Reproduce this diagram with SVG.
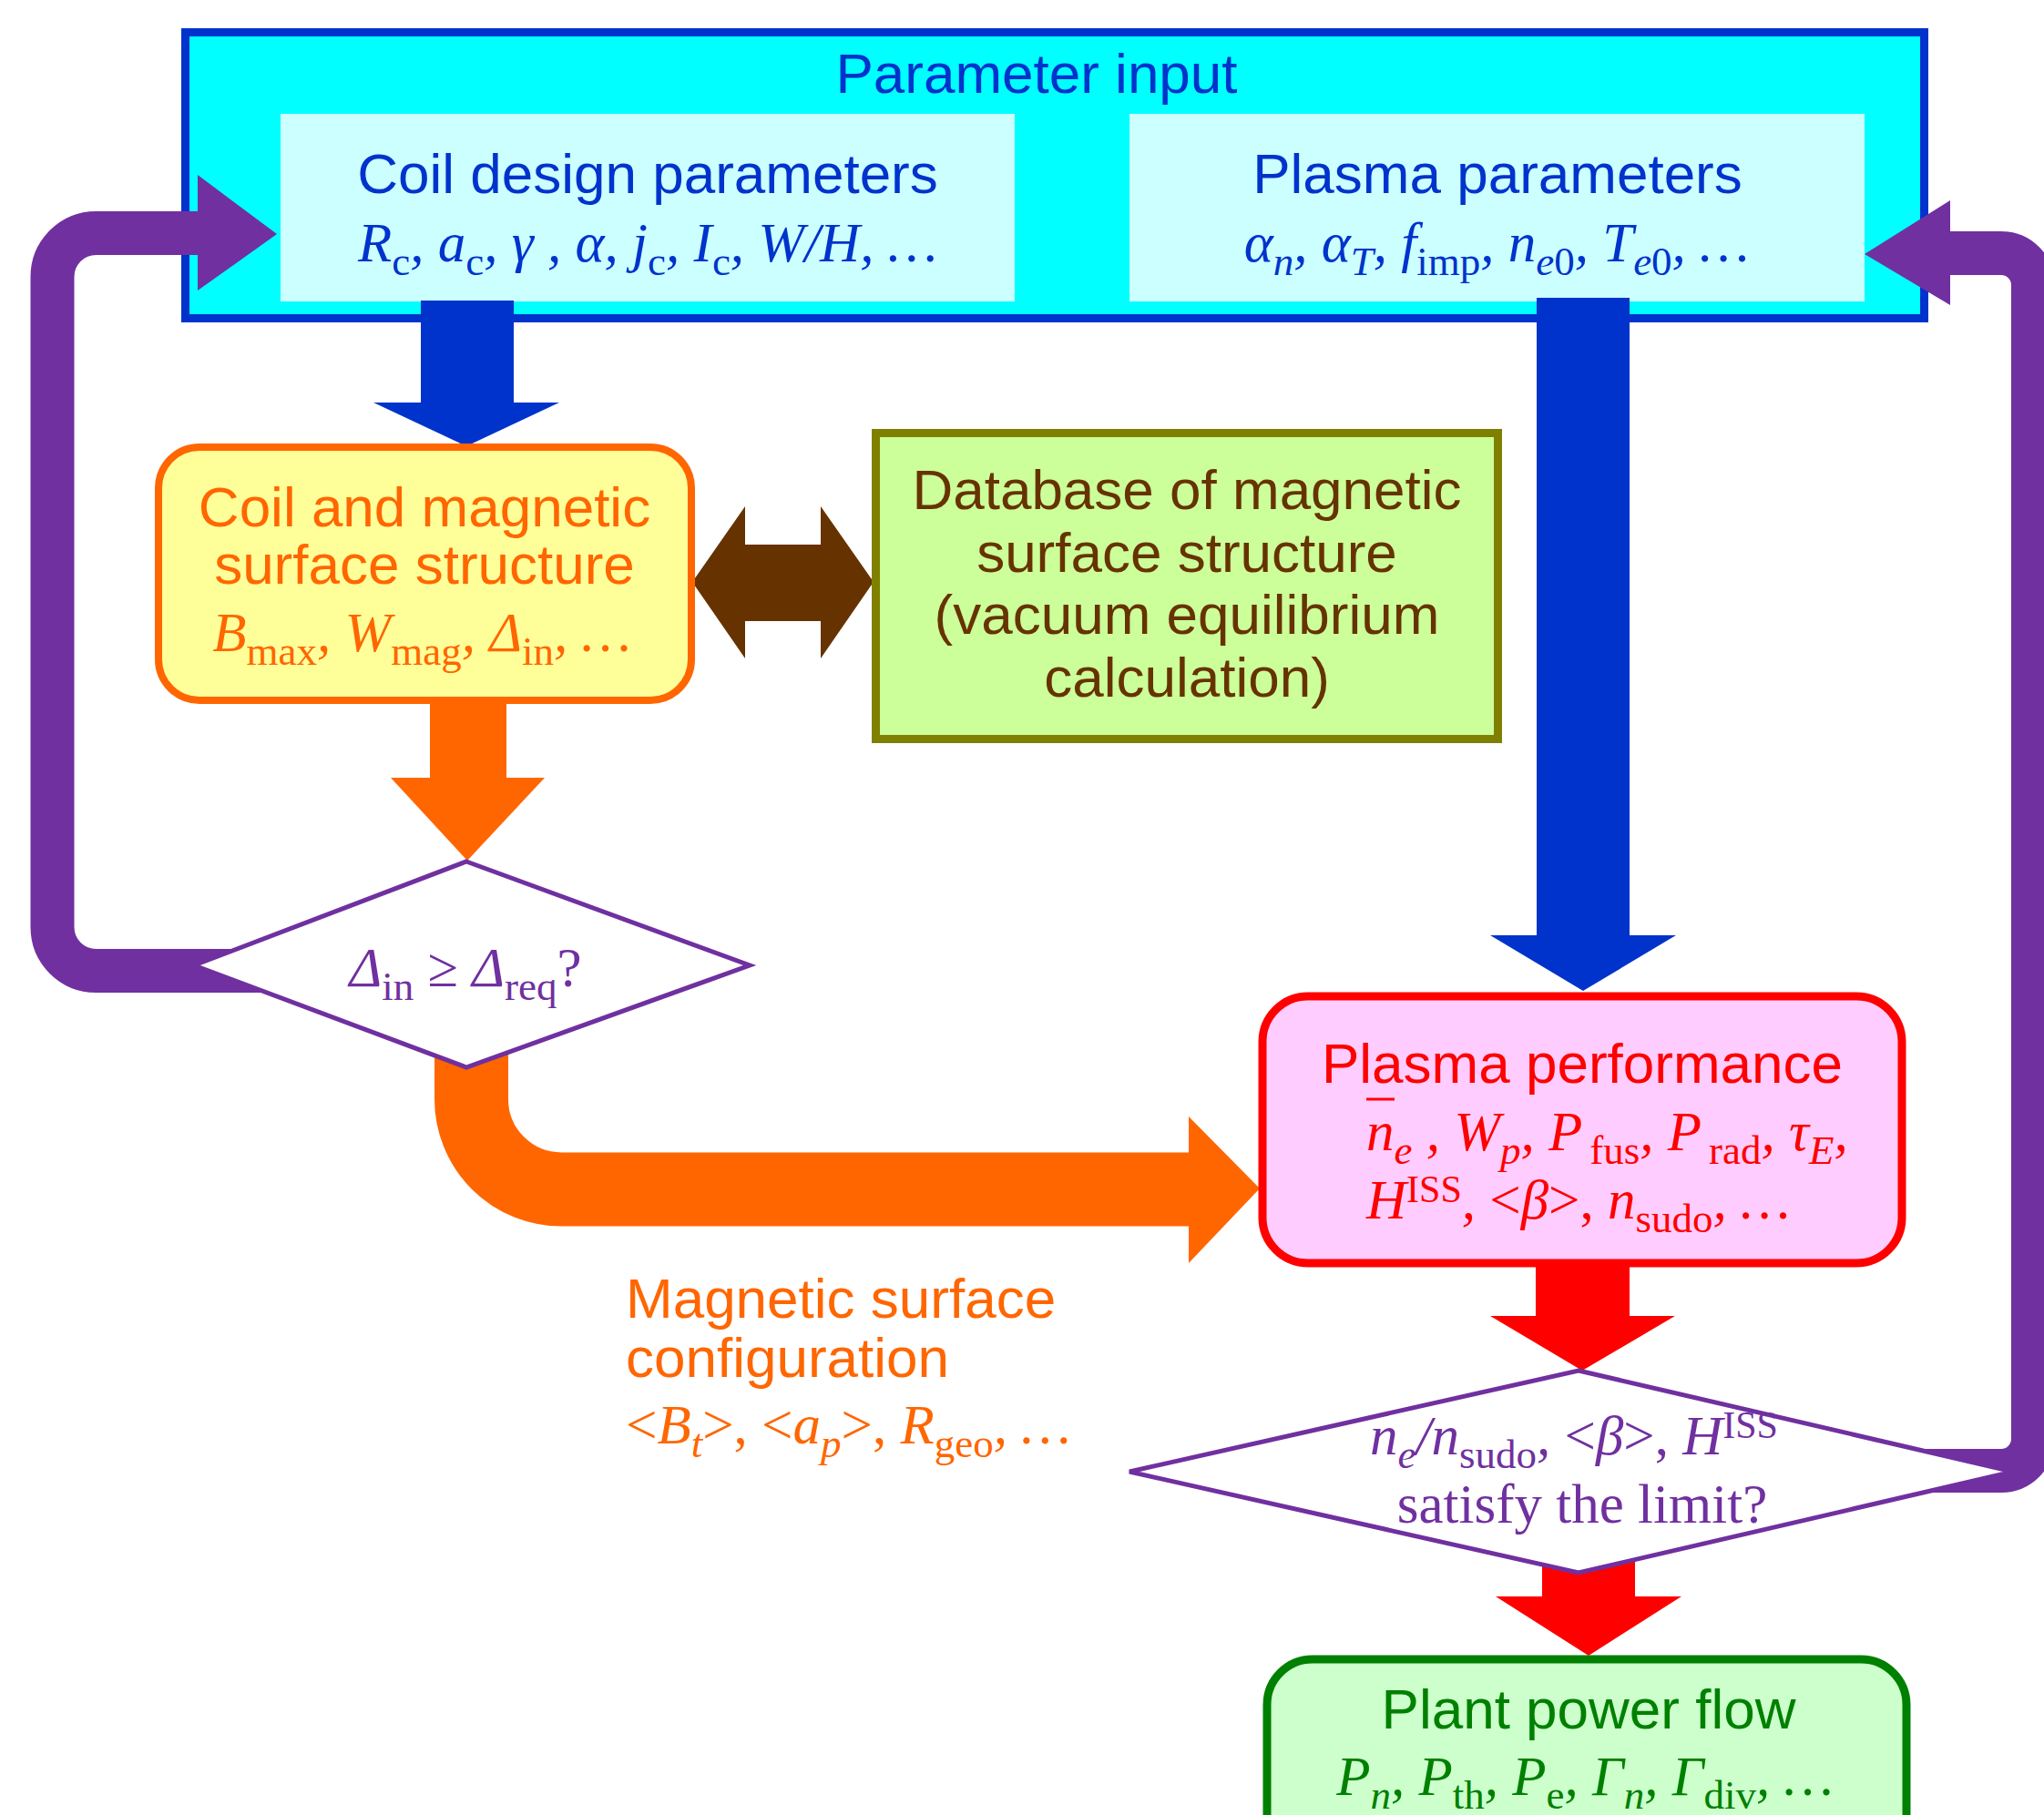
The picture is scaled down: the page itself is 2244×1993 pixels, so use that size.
<svg xmlns="http://www.w3.org/2000/svg" width="2244" height="1993" viewBox="0 0 2244 1993">
<style>
.sans{font-family:"Liberation Sans",Arial,sans-serif;font-size:62px}
.ti{font-family:"Liberation Serif","Times New Roman",serif;font-size:61px;font-style:italic}
.rm{font-family:"Liberation Serif","Times New Roman",serif;font-size:61px;font-style:normal}
.sb{font-size:45px;font-style:normal}
.si{font-size:45px;font-style:italic}
.sp{font-size:42px;font-style:normal}
.blue{fill:#0033CC}
.org{fill:#FF6600}
.brn{fill:#663300}
.red{fill:#FF0000}
.grn{fill:#008000}
.pur{fill:#7030A0}
.band{fill:none;stroke:#7030A0;stroke-width:48}
</style>
<rect width="2244" height="1993" fill="#FFFFFF"/>

<g id="parameter-input">
<rect x="203.5" y="35.5" width="1909" height="314" fill="#00FFFF" stroke="#0033CC" stroke-width="9"/>
<text class="sans blue" x="1138" y="102" text-anchor="middle">Parameter input</text>
</g>
<g id="coil-design-parameters">
<rect x="308" y="125" width="806" height="206" fill="#CCFFFF"/>
<text class="sans blue" x="711" y="212" text-anchor="middle">Coil design parameters</text>
<text class="ti blue" x="711" y="287" text-anchor="middle">R<tspan class="sb" dy="15">c</tspan><tspan dy="-15">, a</tspan><tspan class="sb" dy="15">c</tspan><tspan dy="-15">, γ , α, j</tspan><tspan class="sb" dy="15">c</tspan><tspan dy="-15">, I</tspan><tspan class="sb" dy="15">c</tspan><tspan dy="-15">, W/H, …</tspan></text>
</g>
<g id="plasma-parameters">
<rect x="1240" y="125" width="807" height="206" fill="#CCFFFF"/>
<text class="sans blue" x="1644" y="212" text-anchor="middle">Plasma parameters</text>
<text class="ti blue" x="1643" y="287" text-anchor="middle">α<tspan class="si" dy="15">n</tspan><tspan dy="-15">, α</tspan><tspan class="si" dy="15">T</tspan><tspan dy="-15">, f</tspan><tspan class="sb" dy="15">imp</tspan><tspan dy="-15">, n</tspan><tspan class="si" dy="15">e</tspan><tspan class="sb">0</tspan><tspan dy="-15">, T</tspan><tspan class="si" dy="15">e</tspan><tspan class="sb">0</tspan><tspan dy="-15">, …</tspan></text>
</g>

<g id="connectors">
<!-- blue arrows -->
<polygon points="462,330 564,330 564,442 614,442 512,490 410,442 462,442" fill="#0033CC"/>
<polygon points="1687,327 1789,327 1789,1027 1840,1027 1738,1088 1636,1027 1687,1027" fill="#0033CC"/>
<!-- orange arrows -->
<polygon points="472,770 556,770 556,854 598,854 513,945 429,854 472,854" fill="#FF6600"/>
<path d="M517.5 1120 V1207 A99 99 0 0 0 616.5 1306 H1310" fill="none" stroke="#FF6600" stroke-width="81"/>
<polygon points="1305,1226 1383,1305 1305,1387" fill="#FF6600"/>
<!-- double arrow -->
<polygon points="760,639 818,556 818,598 901,598 901,556 959,639 901,723 901,682 818,682 818,723" fill="#663300"/>
<!-- red arrows -->
<polygon points="1686,1385 1789,1385 1789,1445 1839,1445 1737,1505 1636,1445 1686,1445" fill="#FF0000"/>
<polygon points="1693,1690 1795,1690 1795,1753 1846,1753 1744,1818 1642,1753 1693,1753" fill="#FF0000"/>
<!-- purple feedback loops -->
<path class="band" d="M300 1066 H105.5 A48 48 0 0 1 57.5 1018 V304 A48 48 0 0 1 105.5 256 H222" stroke-width="47"/>
<polygon points="217,192 304,257 217,319" fill="#7030A0"/>
<path class="band" d="M2000 1615 H2197 A35 35 0 0 0 2232 1580 V313 A35 35 0 0 0 2197 278 H2136" stroke-width="50"/>
<polygon points="2141,220 2047,279 2141,335" fill="#7030A0"/>
</g>

<g id="coil-magnetic-surface">
<rect x="174" y="491" width="585" height="278" rx="45" ry="45" fill="#FFFF99" stroke="#FF6600" stroke-width="8"/>
<text class="sans org" x="466" y="578" text-anchor="middle">Coil and magnetic</text>
<text class="sans org" x="466" y="641" text-anchor="middle">surface structure</text>
<text class="ti org" x="463" y="715" text-anchor="middle">B<tspan class="sb" dy="15">max</tspan><tspan dy="-15">, W</tspan><tspan class="sb" dy="15">mag</tspan><tspan dy="-15">, Δ</tspan><tspan class="sb" dy="15">in</tspan><tspan dy="-15">, …</tspan></text>
</g>

<g id="database">
<rect x="961.5" y="475.5" width="683" height="336" fill="#CCFF99" stroke="#808000" stroke-width="9"/>
<text class="sans brn" x="1303" y="559" text-anchor="middle">Database of magnetic</text>
<text class="sans brn" x="1303" y="628" text-anchor="middle">surface structure</text>
<text class="sans brn" x="1303" y="696" text-anchor="middle">(vacuum equilibrium</text>
<text class="sans brn" x="1303" y="765" text-anchor="middle">calculation)</text>
</g>

<g id="decision-delta">
<polygon points="512,946 823,1060 512,1172 213,1060" fill="#FFFFFF" stroke="#7030A0" stroke-width="5" stroke-linejoin="miter"/>
<text class="ti pur" x="511" y="1083" text-anchor="middle">Δ<tspan class="sb" dy="15">in</tspan><tspan class="rm" dy="-15"> ≥ </tspan>Δ<tspan class="sb" dy="15">req</tspan><tspan class="rm" dy="-15">?</tspan></text>
</g>

<g id="plasma-performance">
<rect x="1386" y="1094" width="702" height="293" rx="50" ry="50" fill="#FFCCFF" stroke="#FF0000" stroke-width="9"/>
<text class="sans red" x="1737" y="1189" text-anchor="middle">Plasma performance</text>
<line x1="1500" y1="1207" x2="1531" y2="1207" stroke="#FF0000" stroke-width="3"/>
<text class="ti red" x="1500" y="1263">n<tspan class="si" dy="15">e</tspan><tspan dy="-15"> , W</tspan><tspan class="si" dy="15">p</tspan><tspan dy="-15">, P</tspan><tspan class="sb" dx="8" dy="15">fus</tspan><tspan dy="-15">, P</tspan><tspan class="sb" dx="8" dy="15">rad</tspan><tspan dy="-15">, τ</tspan><tspan class="si" dy="15">E</tspan><tspan dy="-15">,</tspan></text>
<text class="ti red" x="1500" y="1338">H<tspan class="sp" dy="-18">ISS</tspan><tspan dy="18">, </tspan><tspan class="rm">&lt;</tspan>β<tspan class="rm">&gt;, </tspan>n<tspan class="sb" dy="15">sudo</tspan><tspan dy="-15">, …</tspan></text>
</g>

<g id="decision-limit">
<polygon points="1733,1505 2210,1616 1733,1727 1240,1616" fill="#FFFFFF" stroke="#7030A0" stroke-width="5"/>
<text class="ti pur" x="1728" y="1597" text-anchor="middle">n<tspan class="si" dy="15">e</tspan><tspan dy="-15">/n</tspan><tspan class="sb" dy="15">sudo</tspan><tspan dy="-15">, </tspan><tspan class="rm">&lt;</tspan>β<tspan class="rm">&gt;, </tspan>H<tspan class="sp" dy="-18">ISS</tspan></text>
<text class="rm pur" x="1737" y="1672" text-anchor="middle">satisfy the limit?</text>
</g>

<g id="plant-power-flow">
<rect x="1391" y="1822" width="702" height="260" rx="50" ry="50" fill="#CCFFCC" stroke="#008000" stroke-width="9"/>
<text class="sans grn" x="1744" y="1898" text-anchor="middle">Plant power flow</text>
<text class="ti grn" x="1740" y="1971" text-anchor="middle">P<tspan class="si" dy="15">n</tspan><tspan dy="-15">, P</tspan><tspan class="sb" dy="15">th</tspan><tspan dy="-15">, P</tspan><tspan class="sb" dy="15">e</tspan><tspan dy="-15">, Γ</tspan><tspan class="si" dy="15">n</tspan><tspan dy="-15">, Γ</tspan><tspan class="sb" dy="15">div</tspan><tspan dy="-15">, …</tspan></text>
</g>

<g id="magnetic-surface-configuration">
<text class="sans org" x="687" y="1447">Magnetic surface</text>
<text class="sans org" x="687" y="1512">configuration</text>
<text class="ti org" x="687" y="1585"><tspan class="rm">&lt;</tspan>B<tspan class="si" dy="15">t</tspan><tspan class="rm" dy="-15">&gt;, &lt;</tspan>a<tspan class="si" dy="15">p</tspan><tspan class="rm" dy="-15">&gt;, </tspan>R<tspan class="sb" dy="15">geo</tspan><tspan dy="-15">, …</tspan></text>
</g>
</svg>
